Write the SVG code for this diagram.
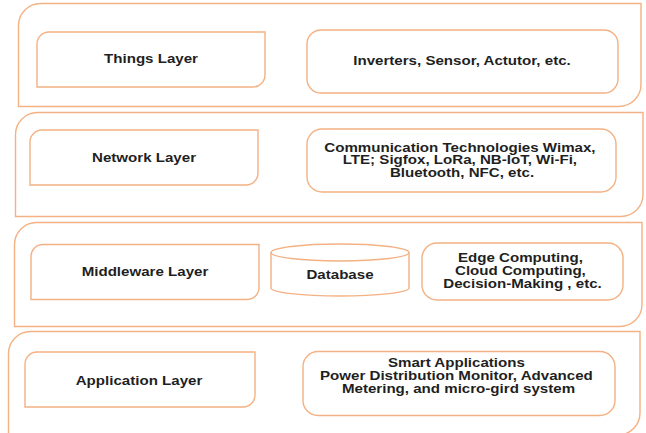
<svg xmlns="http://www.w3.org/2000/svg" width="646" height="433" viewBox="0 0 646 433">
  <style>
    .frame { fill: #ffffff; stroke: #F4B183; stroke-width: 1.4; }
    .box { fill: #ffffff; stroke: #F4B183; stroke-width: 1.4; }
    .lbl { font-family: "Liberation Sans", Arial, sans-serif; font-weight: bold; font-size: 12px; fill: #1f1f1f; text-anchor: middle; }
  </style>
  <rect width="646" height="433" fill="#ffffff"/>

  <!-- Things layer band -->
  <g id="layer-things">
    <path class="frame" d="M40.5,3.5 H641 V84.5 A22,22 0 0 1 619,106.5 H18.5 V25.5 A22,22 0 0 1 40.5,3.5 Z"/>
    <g id="things-title">
      <path class="box" d="M49,32 H265 V75 A12,12 0 0 1 253,87 H37 V44 A12,12 0 0 1 49,32 Z"/>
      <text class="lbl" transform="translate(151 63) scale(1.26 1)">Things Layer</text>
    </g>
    <g id="things-devices">
      <rect class="box" x="307" y="30" width="311" height="63" rx="14"/>
      <text class="lbl" transform="translate(462 65) scale(1.26 1)">Inverters, Sensor, Actutor, etc.</text>
    </g>
  </g>

  <!-- Network layer band -->
  <g id="layer-network">
    <path class="frame" d="M37.5,112.5 H643 V194.5 A22,22 0 0 1 621,216.5 H15.5 V134.5 A22,22 0 0 1 37.5,112.5 Z"/>
    <g id="network-title">
      <path class="box" d="M42,130 H258 V173 A12,12 0 0 1 246,185 H30 V142 A12,12 0 0 1 42,130 Z"/>
      <text class="lbl" transform="translate(144 162) scale(1.26 1)">Network Layer</text>
    </g>
    <g id="network-tech">
      <rect class="box" x="307" y="129" width="309" height="63" rx="15"/>
      <text class="lbl" transform="translate(462 0) scale(1.26 1)">
        <tspan x="0" y="152">Communication Technologies Wimax,</tspan>
        <tspan x="0" y="164.5">LTE; Sigfox, LoRa, NB-IoT, Wi-Fi,</tspan>
        <tspan x="0" y="177">Bluetooth, NFC, etc.</tspan>
      </text>
    </g>
  </g>

  <!-- Middleware layer band -->
  <g id="layer-middleware">
    <path class="frame" d="M36.5,222.5 H642 V304.5 A22,22 0 0 1 620,326.5 H14.5 V244.5 A22,22 0 0 1 36.5,222.5 Z"/>
    <g id="middleware-title">
      <path class="box" d="M43,244.5 H259 V287.5 A12,12 0 0 1 247,299.5 H31 V256.5 A12,12 0 0 1 43,244.5 Z"/>
      <text class="lbl" transform="translate(145 276) scale(1.26 1)">Middleware Layer</text>
    </g>
    <g id="database">
      <path class="box" d="M271,252.5 V288 A69,8 0 0 0 409,288 V252.5"/>
      <ellipse class="box" cx="340" cy="252.5" rx="69" ry="8.5"/>
      <text class="lbl" transform="translate(340 279) scale(1.26 1)">Database</text>
    </g>
    <g id="computing">
      <rect class="box" x="422" y="243" width="201" height="57" rx="15"/>
      <text class="lbl" transform="translate(522.5 0) scale(1.26 1)">
        <tspan x="0" y="262.5">Edge Computing,</tspan>
        <tspan x="0" y="275.5">Cloud Computing,</tspan>
        <tspan x="0" y="288.5">Decision-Making , etc.</tspan>
      </text>
    </g>
  </g>

  <!-- Application layer band -->
  <g id="layer-application">
    <path class="frame" d="M30.5,331.5 H640 V413 A22,22 0 0 1 618,435 H8.5 V353.5 A22,22 0 0 1 30.5,331.5 Z"/>
    <g id="application-title">
      <path class="box" d="M37,352 H255 V395 A12,12 0 0 1 243,407 H25 V364 A12,12 0 0 1 37,352 Z"/>
      <text class="lbl" transform="translate(139 385) scale(1.26 1)">Application Layer</text>
    </g>
    <g id="smart-apps">
      <rect class="box" x="303" y="351.5" width="312" height="64" rx="15"/>
      <text class="lbl" transform="translate(458.5 0) scale(1.26 1)">
        <tspan x="0" y="367.5">Smart Applications</tspan>
        <tspan x="0" y="380.5">Power Distribution Monitor, Advanced</tspan>
        <tspan x="0" y="393.5">Metering, and micro-gird system</tspan>
      </text>
    </g>
  </g>

  <!-- no connectors in this layered stack -->
  <g id="connectors"/>
</svg>
